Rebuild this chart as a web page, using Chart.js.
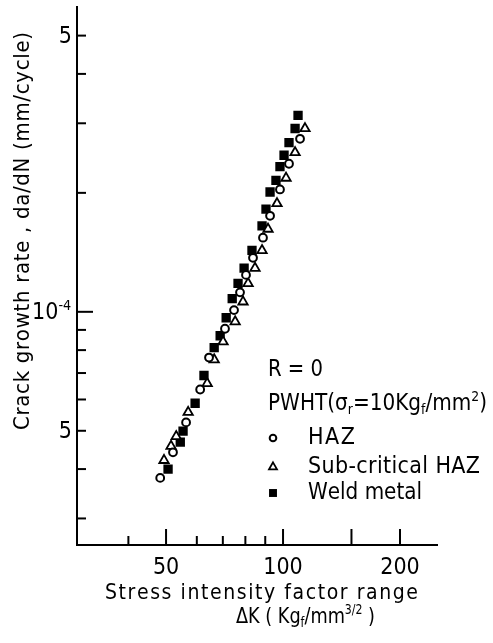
<!DOCTYPE html>
<html>
<head>
<meta charset="utf-8">
<script src="https://cdn.jsdelivr.net/npm/chart.js@4/dist/chart.umd.min.js"></script>
<style>
  html, body { margin: 0; padding: 0; background: #fff; }
  canvas { display: block; }
</style>
</head>
<body>
<canvas id="myChart" width="493" height="643"></canvas>
<script>
// stress intensity factor range dK (Kgf/mm^3/2) and crack growth rate da/dN (mm/cycle)
var hazK = [48.3, 52.1, 56.3, 61.2, 64.5, 70.9, 74.8, 77.5, 80.3, 83.7, 88.8, 92.6, 98.2, 103.6, 110.6];
var hazRate = [3.80e-5, 4.41e-5, 5.25e-5, 6.36e-5, 7.66e-5, 9.06e-5, 1.01e-4, 1.12e-4, 1.24e-4, 1.37e-4, 1.54e-4, 1.75e-4, 2.04e-4, 2.37e-4, 2.74e-4];

var subK = [49.4, 51.5, 53.1, 57.0, 63.8, 66.5, 70.1, 75.3, 78.9, 81.3, 84.7, 88.3, 91.5, 96.5, 101.8, 107.4, 113.9];
var subRate = [4.21e-5, 4.57e-5, 4.84e-5, 5.57e-5, 6.59e-5, 7.57e-5, 8.40e-5, 9.44e-5, 1.06e-4, 1.18e-4, 1.29e-4, 1.43e-4, 1.62e-4, 1.88e-4, 2.18e-4, 2.53e-4, 2.91e-4];

var weldK = [50.6, 54.4, 55.3, 59.4, 62.6, 66.5, 68.9, 71.4, 74.0, 76.6, 79.4, 83.2, 88.3, 90.4, 92.6, 95.9, 98.2, 100.6, 103.6, 107.4, 109.3];
var weldRate = [4.00e-5, 4.68e-5, 4.99e-5, 5.87e-5, 6.90e-5, 8.12e-5, 8.70e-5, 9.66e-5, 1.08e-4, 1.18e-4, 1.29e-4, 1.43e-4, 1.65e-4, 1.82e-4, 2.01e-4, 2.15e-4, 2.33e-4, 2.49e-4, 2.68e-4, 2.91e-4, 3.14e-4];

// axis ticks and labels
var xMajorTicks = [50, 100, 150, 200];
var xMinorTicks = [40, 60, 70, 80, 90];
var xTickLabels = [50, 100, 200];
var yMajorTicks = [1e-4];
var yMinorTicks = [3e-5, 4e-5, 5e-5, 6e-5, 7e-5, 8e-5, 9e-5, 2e-4, 3e-4, 4e-4, 5e-4];
var yTickLabels = [[5e-4, '5', ''], [1e-4, '10', '-4'], [5e-5, '5', '']];

var FONT = "'Liberation Sans Narrow', 'DejaVu Sans Condensed', 'Liberation Sans', sans-serif";

function pts(xs, ys) {
    return xs.map(function (x, i) { return { x: x, y: ys[i] }; });
}

// draws text made of [text, kind] pieces (kind 0 normal, 1 subscript, 2 superscript),
// stretched or squeezed to a given width
function richText(ctx, segs, x, y, size, width, angle) {
    var chars = [];
    segs.forEach(function (s) {
        for (var i = 0; i < s[0].length; i++) chars.push([s[0][i], s[1] || 0]);
    });
    var total = 0;
    chars.forEach(function (c) {
        ctx.font = (c[1] ? size * 0.62 : size) + 'px ' + FONT;
        c.push(ctx.measureText(c[0]).width);
        total += c[2];
    });
    var gap = 0, sx = 1;
    if (width) {
        if (total < width) gap = (width - total) / Math.max(chars.length - 1, 1);
        else sx = width / total;
    }
    ctx.save();
    ctx.translate(x, y);
    if (angle) ctx.rotate(angle);
    ctx.scale(sx, 1);
    ctx.textBaseline = 'middle';
    ctx.textAlign = 'left';
    var cx = 0;
    chars.forEach(function (c) {
        ctx.font = (c[1] ? size * 0.62 : size) + 'px ' + FONT;
        var dy = c[1] === 1 ? size * 0.28 : (c[1] === 2 ? -size * 0.3 : 0);
        ctx.fillText(c[0], cx, dy);
        cx += c[2] + gap / sx;
    });
    ctx.restore();
}

var annotate = {
    id: 'annotate',
    afterDraw: function (chart) {
        var ctx = chart.ctx;
        var xs = chart.scales.x, ys = chart.scales.y, a = chart.chartArea;
        ctx.save();
        ctx.strokeStyle = '#000';
        ctx.fillStyle = '#000';
        ctx.lineWidth = 2;

        function line(x1, y1, x2, y2) {
            ctx.beginPath(); ctx.moveTo(x1, y1); ctx.lineTo(x2, y2); ctx.stroke();
        }
        // ticks point into the plot
        xMinorTicks.forEach(function (v) { var p = xs.getPixelForValue(v); line(p, a.bottom, p, a.bottom - 9); });
        xMajorTicks.forEach(function (v) { var p = xs.getPixelForValue(v); line(p, a.bottom, p, a.bottom - 16); });
        yMinorTicks.forEach(function (v) { var p = ys.getPixelForValue(v); line(a.left, p, a.left + 9, p); });
        yMajorTicks.forEach(function (v) { var p = ys.getPixelForValue(v); line(a.left, p, a.left + 16, p); });

        // tick labels
        ctx.textBaseline = 'middle';
        ctx.textAlign = 'center';
        ctx.font = '23px ' + FONT;
        xTickLabels.forEach(function (v) {
            ctx.fillText(String(v), xs.getPixelForValue(v), a.bottom + 23);
        });
        yTickLabels.forEach(function (t) {
            var p = ys.getPixelForValue(t[0]);
            ctx.font = '23px ' + FONT;
            var w = ctx.measureText(t[1]).width;
            ctx.font = '14px ' + FONT;
            var ws = t[2] ? ctx.measureText(t[2]).width + 1 : 0;
            var right = a.left - 5;
            richText(ctx, [[t[1], 0], [t[2], 2]], right - w - ws, p + 1, 23);
        });

        // axis titles
        richText(ctx, [['Stress intensity factor range', 0]], 105, 594, 21, 313);
        richText(ctx, [['\u0394K ( Kg', 0], ['f', 1], ['/mm', 0], ['3/2', 2], [' )', 0]], 236, 617, 22, 139);
        richText(ctx, [['Crack growth rate , da/dN (mm/cycle)', 0]], 23, 430, 22, 398, -Math.PI / 2);

        // legend block
        richText(ctx, [['R = 0', 0]], 268, 370, 23, 55);
        richText(ctx, [['PWHT(', 0], ['\u03c3', 0], ['r', 1], ['=10Kg', 0], ['f', 1], ['/mm', 0], ['2', 2], [')', 0]], 268, 404, 23, 219);
        var rows = [[438, 47], [467, 172], [493, 114]];
        chart.data.datasets.forEach(function (ds, i) {
            ctx.fillStyle = ds.backgroundColor;
            ctx.strokeStyle = ds.borderColor;
            ctx.lineWidth = ds.borderWidth;
            Chart.helpers.drawPoint(ctx, {
                pointStyle: ds.pointStyle, radius: ds.pointRadius * 0.85,
                rotation: 0, borderWidth: ds.borderWidth
            }, 273, rows[i][0]);
            ctx.fillStyle = '#000';
            richText(ctx, [[ds.label, 0]], 308, rows[i][0], 23, rows[i][1]);
        });
        ctx.restore();
    }
};

var ctx = document.getElementById('myChart').getContext('2d');
var myChart = new Chart(ctx, {
    type: 'scatter',
    data: {
        datasets: [{
            label: 'HAZ',
            data: pts(hazK, hazRate),
            pointStyle: 'circle',
            pointRadius: 3.9,
            backgroundColor: '#fff',
            borderColor: '#000',
            borderWidth: 2
        },
        {
            label: 'Sub-critical HAZ',
            data: pts(subK, subRate),
            pointStyle: 'triangle',
            pointRadius: 5.4,
            backgroundColor: '#fff',
            borderColor: '#000',
            borderWidth: 1.8
        },
        {
            label: 'Weld metal',
            data: pts(weldK, weldRate),
            pointStyle: 'rect',
            pointRadius: 6.6,
            backgroundColor: '#000',
            borderColor: '#000',
            borderWidth: 0
        }]
    },
    options: {
        responsive: false,
        animation: false,
        layout: { padding: { top: 7, right: 56, left: 0, bottom: 0 } },
        plugins: {
            legend: { display: false },
            tooltip: { enabled: false }
        },
        scales: {
            x: {
                type: 'logarithmic',
                min: 29.5,
                max: 249,
                grid: { display: false },
                border: { display: true, color: '#000', width: 2 },
                ticks: { display: false },
                afterFit: function (s) { s.height = 98; }
            },
            y: {
                type: 'logarithmic',
                min: 2.57e-5,
                max: 5.9e-4,
                grid: { display: false },
                border: { display: true, color: '#000', width: 2 },
                ticks: { display: false },
                afterFit: function (s) { s.width = 77; }
            }
        }
    },
    plugins: [annotate]
});
</script>
</body>
</html>
